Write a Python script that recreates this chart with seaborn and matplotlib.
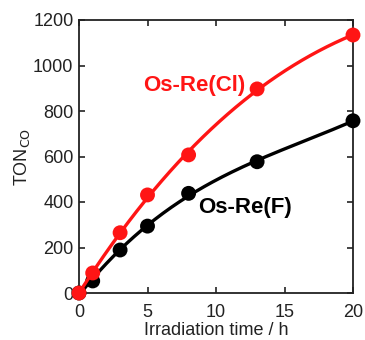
import numpy as np
import pandas as pd
import matplotlib
matplotlib.use("Agg")
import matplotlib.pyplot as plt
import seaborn as sns

time_h = [0, 1, 3, 5, 8, 13, 20]
ton_cl = [0, 88, 265, 431, 607, 897, 1134]
ton_f = [0, 53, 189, 294, 438, 577, 757]
series_names = ["Os-Re(F)", "Os-Re(Cl)"]
x_ticks = [0, 5, 10, 15, 20]
y_ticks = [0, 200, 400, 600, 800, 1000, 1200]

sns.set_theme(style="ticks")
plt.rcParams["font.family"] = ["Liberation Sans", "DejaVu Sans"]

fig = plt.figure(figsize=(3.65, 3.4), dpi=100)
ax = fig.add_axes([79/365, 1-293/340, (353-79)/365, (293-20)/340])

colors = {"Os-Re(Cl)": "#ff1515", "Os-Re(F)": "#000000"}
t_fine = np.linspace(0, 20, 200)
for i, (name, vals) in enumerate(zip(series_names, [ton_f, ton_cl])):
    coef = np.polyfit(time_h, vals, 3)
    fit = pd.DataFrame({"t": t_fine, "v": np.polyval(coef, t_fine)})
    sns.lineplot(data=fit, x="t", y="v", ax=ax, color=colors[name], lw=2.4, zorder=3 + 3*i)
    pts = pd.DataFrame({"t": time_h, "v": vals})
    sns.scatterplot(data=pts, x="t", y="v", ax=ax, color=colors[name], s=115,
                    edgecolor="none", zorder=4 + 3*i, clip_on=False)

ax.set_xlim(0, 20)
ax.set_ylim(0, 1200)
ax.set_xticks(x_ticks)
ax.set_yticks(y_ticks)
ax.tick_params(direction="in", length=4, width=1.2, labelsize=13, colors="#222222",
               top=True, right=True, labeltop=False, labelright=False)
ax.tick_params(axis="x", pad=8)
ax.tick_params(axis="y", pad=4)
for sp in ax.spines.values():
    sp.set_linewidth(1.3)
    sp.set_color("#222222")
ax.set_xlabel("Irradiation time / h", fontsize=13, labelpad=0.5, color="#222222")
ax.set_ylabel(r"TON$_{\mathrm{CO}}$", fontsize=13, labelpad=1, color="#222222")

ax.text(8.4, 910, "Os-Re(Cl)", color="#ff1515", fontsize=16, fontweight="bold",
        ha="center", va="center")
ax.text(8.7, 378, "Os-Re(F)", color="#000000", fontsize=16, fontweight="bold",
        ha="left", va="center")

fig.savefig("out.png", dpi=100)
